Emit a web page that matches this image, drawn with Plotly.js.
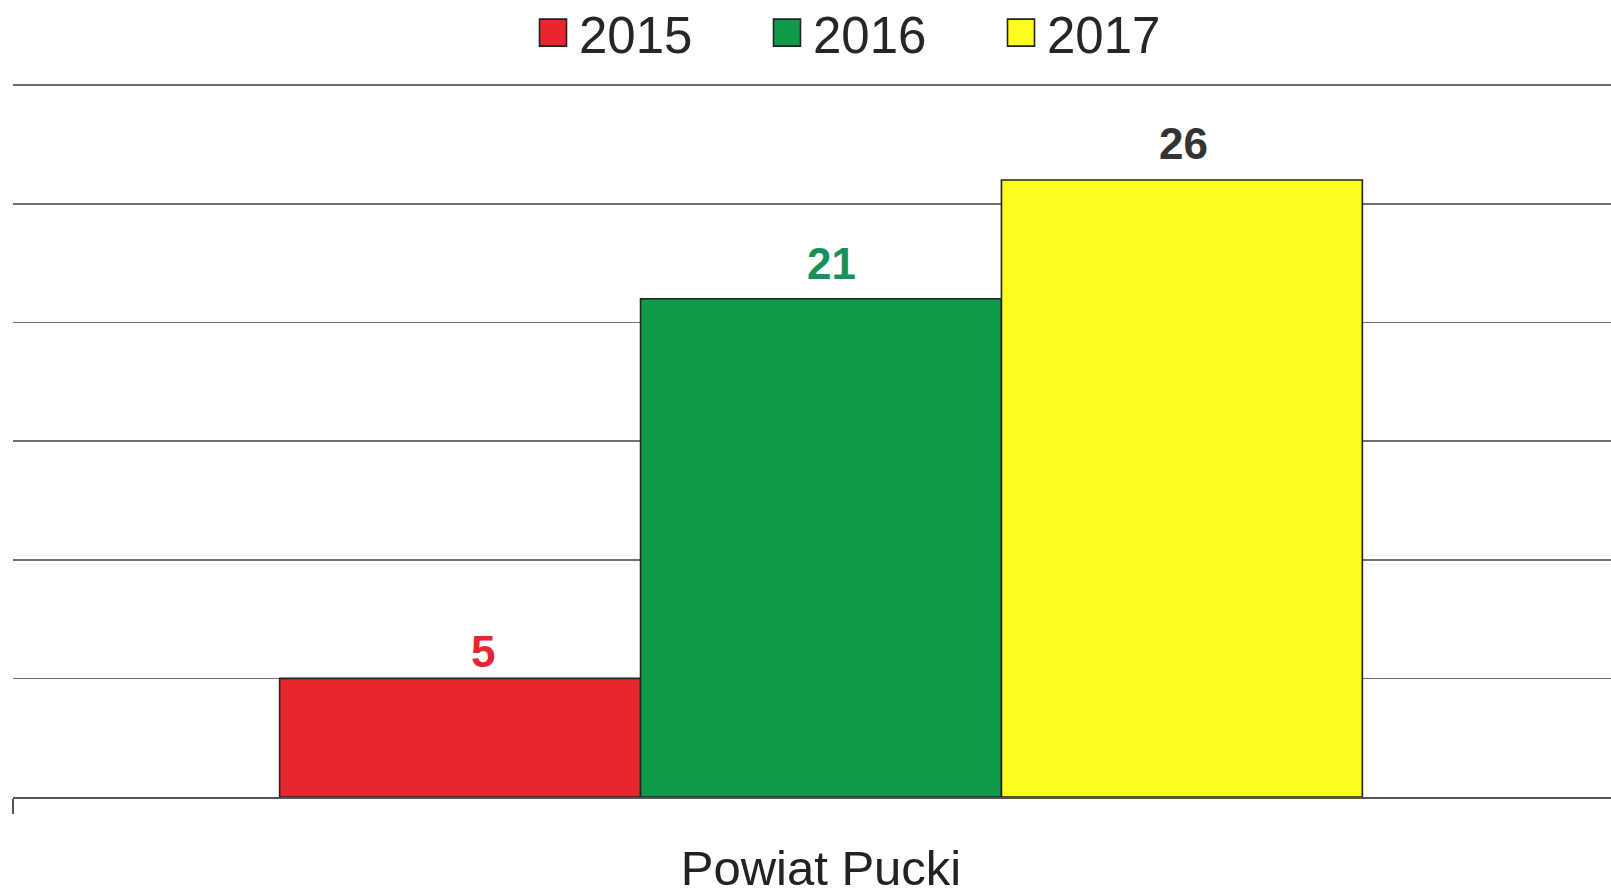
<!DOCTYPE html>
<html>
<head>
<meta charset="utf-8">
<script src="https://cdn.plot.ly/plotly-3.0.1.min.js"></script>
<style>
  html, body { margin: 0; padding: 0; background: #ffffff; }
  #chart { width: 1611px; height: 895px; }
</style>
</head>
<body>
<div id="chart"></div>
<script>
// ---- data ----
var categories = ["Powiat Pucki"];
var seriesNames = ["2015", "2016", "2017"];
var values2015 = [5];
var values2016 = [21];
var values2017 = [26];
var yTicks = [0, 5, 10, 15, 20, 25, 30];

// ---- style ----
var seriesValues = [values2015, values2016, values2017];
var barColors = ["#e8262e", "#11994a", "#fcfc22"];
var labelColors = ["#e52632", "#18905c", "#333333"];
var labelShiftY = [0, 9, 10];
var labelShiftX = [23, 10, 2];
var FONT = "'Liberation Sans', Arial, sans-serif";
var BARGAP = 0.33;

var traces = seriesNames.map(function (name, i) {
  return {
    type: "bar",
    name: name,
    x: categories,
    y: seriesValues[i],
    marker: { color: barColors[i], line: { color: "#222222", width: 1.6 } },
    hoverinfo: "skip"
  };
});

// data labels above each bar, placed through the axis scales
var n = seriesNames.length;
var w = (1 - BARGAP) / n;
var annotations = [];
seriesNames.forEach(function (name, i) {
  seriesValues[i].forEach(function (v, c) {
    annotations.push({
      xref: "x", yref: "y",
      x: c - (1 - BARGAP) / 2 + w * (i + 0.5),
      y: v,
      text: String(v),
      showarrow: false,
      xanchor: "center", yanchor: "bottom",
      xshift: labelShiftX[i],
      yshift: labelShiftY[i],
      font: { family: FONT, size: 44, color: labelColors[i], weight: "bold" }
    });
  });
});

var layout = {
  width: 1611, height: 895,
  margin: { l: 13, r: 0, t: 78, b: 98 },
  paper_bgcolor: "#ffffff",
  plot_bgcolor: "#ffffff",
  font: { family: FONT, color: "#222222" },
  barmode: "group",
  bargap: BARGAP,
  bargroupgap: 0,
  showlegend: true,
  legend: {
    orientation: "h",
    xref: "container", yref: "container",
    x: 527 / 1611, xanchor: "left",
    y: 1 - 33 / 895, yanchor: "middle",
    font: { family: FONT, size: 51, color: "#262626" },
    itemwidth: 42,
    entrywidth: 177,
    entrywidthmode: "pixels",
    bgcolor: "rgba(0,0,0,0)",
    traceorder: "normal"
  },
  xaxis: {
    type: "category",
    range: [-0.5, -0.5 + 1598 / 1616],
    showline: true, linecolor: "#555555", linewidth: 1.6,
    ticks: "outside", tickson: "boundaries", ticklen: 15, tickwidth: 1.6, tickcolor: "#555555",
    showgrid: false, zeroline: false,
    tickfont: { family: FONT, size: 49, color: "#222222" },
    ticklabelstandoff: 28,
    fixedrange: true
  },
  yaxis: {
    range: [0, 30.3],
    tickvals: yTicks,
    showticklabels: false,
    ticks: "",
    showgrid: true, gridcolor: "#707070", gridwidth: 1.6,
    zeroline: false, showline: false,
    fixedrange: true
  },
  annotations: annotations
};

Plotly.newPlot("chart", traces, layout, { displayModeBar: false, staticPlot: true }).then(function (gd) {
  // enlarge legend swatches to match the reference square size
  var paths = gd.querySelectorAll(".legend .legendpoints path");
  paths.forEach(function (p) {
    p.setAttribute("d", "M13.5,13.5H-13.5V-13.5H13.5Z");
  });
});
</script>
</body>
</html>
